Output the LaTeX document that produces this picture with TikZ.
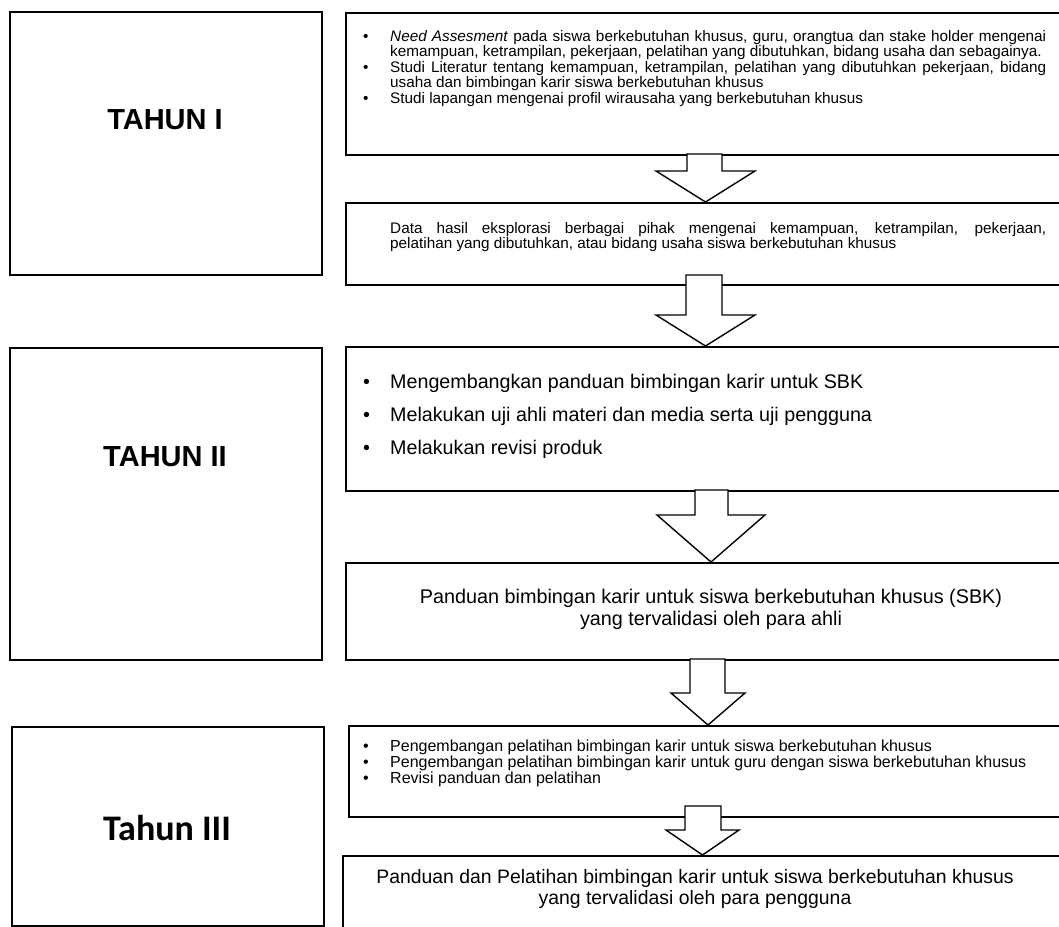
\documentclass[tikz,border=0pt]{standalone}
\usepackage{fontspec}
\setmainfont{Liberation Sans}
\newfontfamily\calib{Carlito}
\newcommand{\bitem}[2]{\par\noindent\hangindent=#1\hangafter=1\makebox[#1][l]{\textbullet}#2\par}
\begin{document}
\begin{tikzpicture}[x=1pt,y=-1pt,
  box/.style={draw=black, line width=1.8pt, fill=white, inner sep=0pt, anchor=north west},
  barrow/.style={draw=black, line width=1.4pt, fill=white, line join=miter},
  txt/.style={inner sep=0pt, anchor=base west, text=black},
  ctxt/.style={inner sep=0pt, anchor=base, text=black},
  lbl/.style={inner sep=0pt, anchor=center, text=black, font=\bfseries\fontsize{29}{33}\selectfont}]
\useasboundingbox (0,0) rectangle (1059,926);
\clip (0,0) rectangle (1059,926);
% left year boxes
\node[box, minimum width=312pt, minimum height=263pt] (L1) at (9,11) {};
\node[box, minimum width=312pt, minimum height=312pt] (L2) at (9,347) {};
\node[box, minimum width=312pt, minimum height=199pt] (L3) at (11,726) {};
\node[lbl] (l1) at (165,120) {TAHUN I};
\node[lbl] (l2) at (165,457) {TAHUN II};
\node[inner sep=0pt, anchor=center, font=\calib\bfseries\fontsize{36}{40}\selectfont] (l3) at (167,828) {Tahun III};
% right boxes
\node[box, minimum width=725pt, minimum height=142pt] (R1) at (345,12) {};
\node[box, minimum width=725pt, minimum height=82pt] (R2) at (345,202) {};
\node[box, minimum width=725pt, minimum height=144pt] (R3) at (345,346) {};
\node[box, minimum width=725pt, minimum height=97pt] (R4) at (345,562) {};
\node[box, minimum width=722pt, minimum height=91pt] (R5) at (348,725) {};
\node[box, minimum width=728pt, minimum height=85pt] (R6) at (342,855) {};
% block arrows
\draw[barrow] (687,154) -- (687,171) -- (656,171) -- (705.5,202) -- (755,171) -- (722,171) -- (722,154) -- cycle;
\draw[barrow] (686,275) -- (686,315) -- (656,315) -- (705.5,346) -- (755,315) -- (722,315) -- (722,275) -- cycle;
\draw[barrow] (695,490) -- (695,515) -- (657,515) -- (711,562) -- (765,515) -- (728,515) -- (728,490) -- cycle;
\draw[barrow] (690,659) -- (690,693) -- (671,693) -- (708,725) -- (745,693) -- (725,693) -- (725,659) -- cycle;
\draw[barrow] (685,806) -- (685,830) -- (666,830) -- (702.5,855) -- (739,830) -- (721,830) -- (721,806) -- cycle;
% texts
\node[txt, font=\fontsize{15.3}{15.5}\selectfont] (t1) at (363,41) {\parbox[t]{683pt}{%
\bitem{27pt}{\textit{Need Assesment} pada siswa berkebutuhan khusus, guru, orangtua dan stake holder mengenai\linebreak kemampuan, ketrampilan, pekerjaan, pelatihan yang dibutuhkan, bidang usaha dan sebagainya.}%
\bitem{27pt}{Studi Literatur tentang kemampuan, ketrampilan, pelatihan yang dibutuhkan pekerjaan, bidang\linebreak usaha dan bimbingan karir siswa berkebutuhan khusus}%
\bitem{27pt}{Studi lapangan mengenai profil wirausaha yang berkebutuhan khusus}}};
\node[txt, font=\fontsize{15.3}{15.5}\selectfont] (t2) at (390,233) {\parbox[t]{656pt}{%
Data hasil eksplorasi berbagai pihak mengenai kemampuan, ketrampilan, pekerjaan,\linebreak pelatihan yang dibutuhkan, atau bidang usaha siswa berkebutuhan khusus}};
\node[txt, font=\fontsize{19.7}{33}\selectfont] (t3) at (363,388) {\parbox[t]{683pt}{%
\bitem{27pt}{Mengembangkan panduan bimbingan karir untuk SBK}%
\bitem{27pt}{Melakukan uji ahli materi dan media serta uji pengguna}%
\bitem{27pt}{Melakukan revisi produk}}};
\node[ctxt, font=\fontsize{19.8}{22}\selectfont] (t4) at (711,603) {\parbox[t]{700pt}{\centering
Panduan bimbingan karir untuk siswa berkebutuhan khusus (SBK)\\ yang tervalidasi oleh para ahli}};
\node[txt, font=\fontsize{16}{16}\selectfont] (t5) at (363,751) {\parbox[t]{683pt}{%
\bitem{27pt}{Pengembangan pelatihan bimbingan karir untuk siswa berkebutuhan khusus}%
\bitem{27pt}{Pengembangan pelatihan bimbingan karir untuk guru dengan siswa berkebutuhan khusus}%
\bitem{27pt}{Revisi panduan dan pelatihan}}};
\node[ctxt, font=\fontsize{19.4}{21}\selectfont] (t6) at (695,883) {\parbox[t]{700pt}{\centering
Panduan dan Pelatihan bimbingan karir untuk siswa berkebutuhan khusus\\ yang tervalidasi oleh para pengguna}};
\end{tikzpicture}
\end{document}
